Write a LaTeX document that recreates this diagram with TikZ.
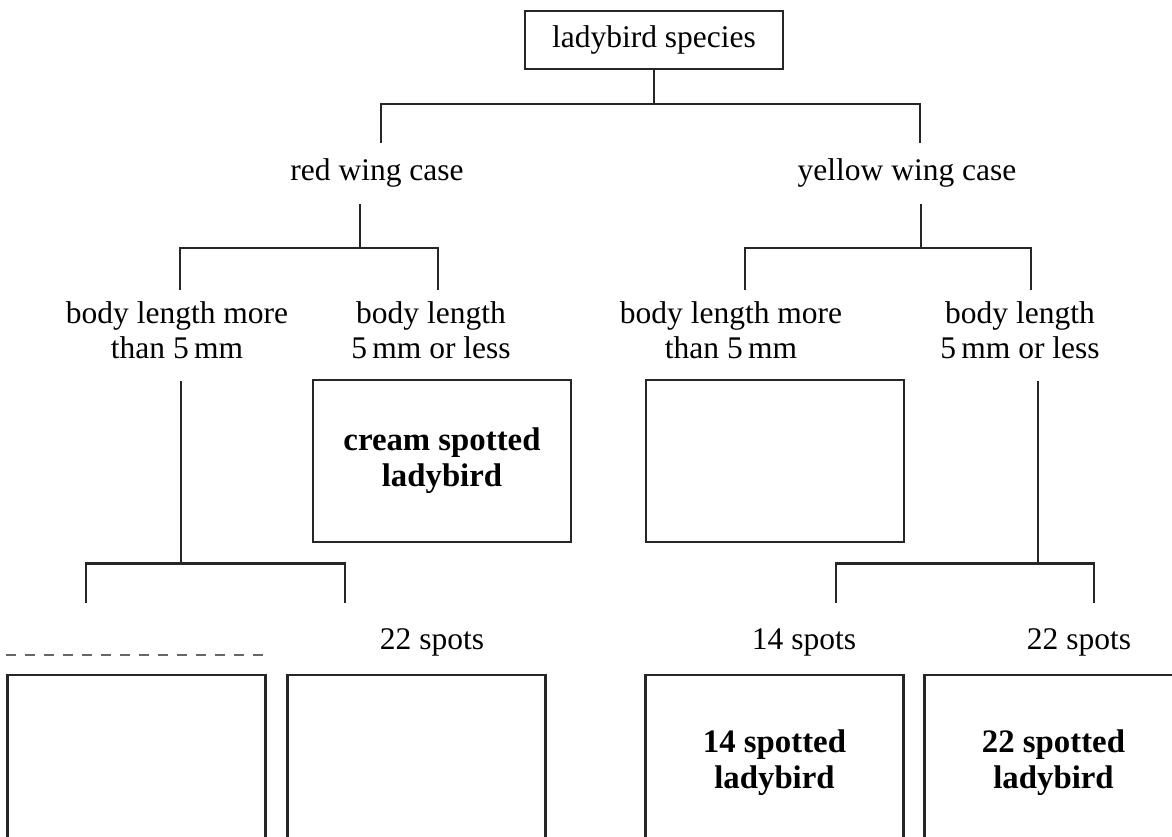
\documentclass[tikz,border=0pt]{standalone}
\usepackage{fontspec}
\setmainfont{Liberation Serif}
\usetikzlibrary{positioning}

\begin{document}
\begin{tikzpicture}[x=0.5pt, y=0.5pt,
   font=\fontsize{15.75}{17.5}\selectfont,
   titlebox/.style={draw=black!85, rectangle, line width=1.2pt, minimum width=129pt, minimum height=29pt, inner sep=0pt},
   branch/.style={align=center, inner xsep=0pt, inner ysep=5.75pt},
   keybox/.style={draw=black!85, rectangle, line width=1.2pt, minimum width=129pt, minimum height=81pt, align=center, font=\fontsize{16.4}{18}\selectfont\bfseries},
   tipbox/.style={keybox, minimum height=88pt},
   link/.style={black!85, line width=1.2pt},
   answerline/.style={line width=0.8pt, black!60, dash pattern=on 5pt off 4.5pt}
]
\clip (0,0) rectangle (1172,836);

% Nodes
\node [titlebox] (species) at (654,796) {ladybird species};
\node [branch, inner ysep=8pt, anchor=base] (red) at (377,655) {red wing case};
\node [branch, inner ysep=8pt, anchor=base] (yellow) at (907,655) {yellow wing case};

\node [branch, anchor=north] (lmore) at (177,546) {body length more\\than 5\,mm};
\node [branch, anchor=north] (lless) at (431,546) {body length\\5\,mm or less};
\node [branch, anchor=north] (rmore) at (731,546) {body length more\\than 5\,mm};
\node [branch, anchor=north] (rless) at (1020,546) {body length\\5\,mm or less};

\node [keybox] (cream) at (442,375) {cream spotted\\ladybird};
\node [keybox] (unknown) at (775,375) {};

\node [tipbox] (tipA) at (136.5,73) {};
\node [tipbox, right=9.8pt of tipA] (tipB) {};
\node [tipbox] (tipC) at (774.5,73) {14 spotted\\ladybird};
\node [tipbox, right=9.3pt of tipC] (tipD) {22 spotted\\ladybird};

\node [branch, anchor=base] (spotsB) at (432,187) {22 spots};
\node [branch, anchor=base] (spotsC) at (804,187) {14 spots};
\node [branch, anchor=base] (spotsD) at (1079,187) {22 spots};

\coordinate (legA) at (86,233);
\coordinate (legB) at (345,233);
\coordinate (legC) at (836,233);
\coordinate (legD) at (1094,233);

% Connections
\draw [link] (species.south) -- ++(0,-34) -| ([xshift=2pt]red.north);
\draw [link] (species.south) -- ++(0,-34) -| ([xshift=6.5pt]yellow.north);

\draw [link] ([xshift=-8.5pt]red.south) -- ++(0,-44) -| ([xshift=1.5pt]lmore.north);
\draw [link] ([xshift=-8.5pt]red.south) -- ++(0,-44) -| ([xshift=3.5pt]lless.north);
\draw [link] ([xshift=7pt]yellow.south) -- ++(0,-44) -| ([xshift=7pt]rmore.north);
\draw [link] ([xshift=7pt]yellow.south) -- ++(0,-44) -| ([xshift=5.5pt]rless.north);

\draw [link] ([xshift=2pt,yshift=-5.25pt]lmore.south) -- ++(0,-182) -| (legA);
\draw [link] ([xshift=2pt,yshift=-5.25pt]lmore.south) -- ++(0,-182) -| (legB);
\draw [link] ([xshift=9pt,yshift=-5.25pt]rless.south) -- ++(0,-182) -| (legC);
\draw [link] ([xshift=9pt,yshift=-5.25pt]rless.south) -- ++(0,-182) -| (legD);

\draw [answerline] ([yshift=9.5pt]tipA.north west) -- ([yshift=9.5pt]tipA.north east);

\end{tikzpicture}
\end{document}
